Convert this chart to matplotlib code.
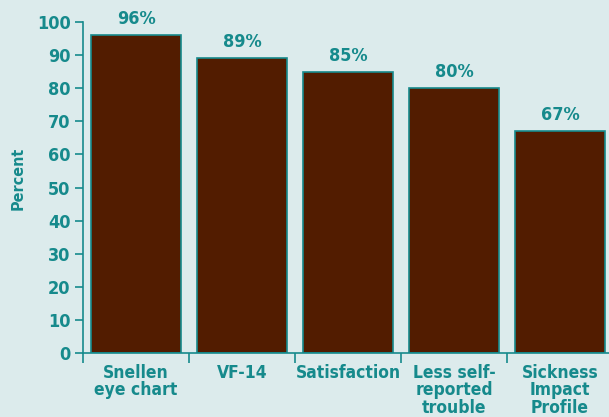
import numpy as np
import matplotlib.pyplot as plt

categories = ['Snellen\neye chart', 'VF-14', 'Satisfaction', 'Less self-\nreported\ntrouble', 'Sickness\nImpact\nProfile']
percent = [96, 89, 85, 80, 67]
yticks = [0, 10, 20, 30, 40, 50, 60, 70, 80, 90, 100]

teal = '#168A8C'
brown = '#521C00'
bg = '#DCEBEC'

plt.rcParams['font.family'] = ['DejaVu Sans']
plt.rcParams['font.weight'] = 'bold'
plt.rcParams['font.stretch'] = 'condensed'

fig = plt.figure(figsize=(6.09, 4.17), dpi=100)
fig.patch.set_facecolor(bg)
ax = fig.add_axes([83/609, 64/417, 530/609, 331/417])
ax.set_facecolor('none')

x = np.arange(len(categories))
ax.bar(x, percent, width=0.85, color=brown, edgecolor=teal, linewidth=1.2, zorder=2)

for xi, v in zip(x, percent):
    ax.annotate(f'{v}%', (xi, v), xytext=(0, 5), textcoords='offset points',
                ha='center', va='bottom', color=teal, fontsize=13, fontweight='bold')

ax.set_xlim(-0.5, len(categories) - 0.5)
ax.set_ylim(0, 100)
ax.set_yticks(yticks)
ax.tick_params(axis='y', colors=teal, labelsize=13, length=6, width=1.2, pad=3)

ax.set_xticks(x)
ax.set_xticklabels(categories, color=teal, fontsize=12.5, fontweight='bold', linespacing=0.95)
ax.tick_params(axis='x', which='major', length=0, pad=8)
ax.set_xticks(np.arange(-0.5, len(categories)), minor=True)
ax.tick_params(axis='x', which='minor', length=7, width=1.2, color=teal)

for s in ['top', 'right']:
    ax.spines[s].set_visible(False)
for s in ['left', 'bottom']:
    ax.spines[s].set_color(teal)
    ax.spines[s].set_linewidth(1.2)

fig.text(18/609, 1 - 178/417, 'Percent', rotation=90, color=teal, fontsize=11.5,
         fontweight='bold', ha='center', va='center')

fig.savefig('out.png', dpi=100, facecolor=bg)
